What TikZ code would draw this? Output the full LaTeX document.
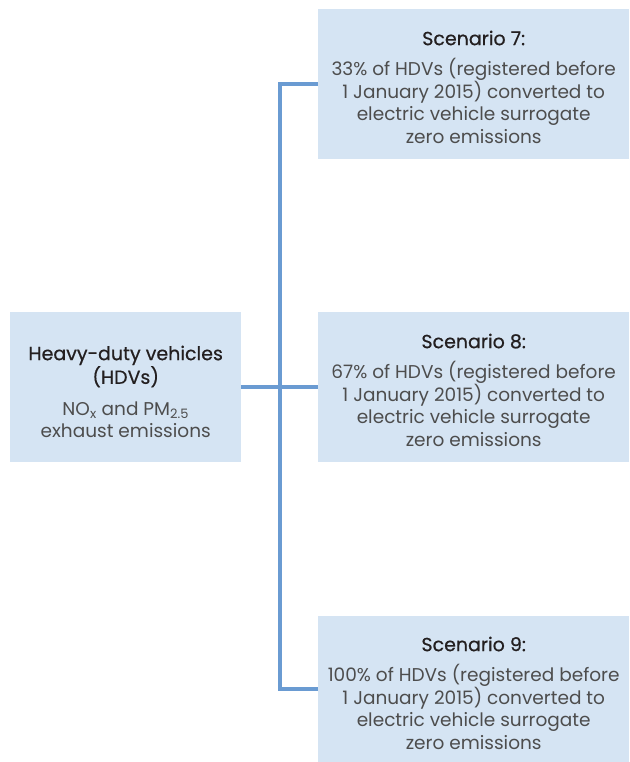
\documentclass[tikz,border=0pt]{standalone}
\usepackage{fontspec}
\setmainfont{Poppins}
\newfontfamily\headfont{Poppins}[FakeBold=0.6]
\definecolor{boxfill}{HTML}{D5E4F3}
\definecolor{linecol}{HTML}{6A9BD2}
\definecolor{headcol}{HTML}{231F20}
\definecolor{bodycol}{HTML}{4D4D4D}
\newcommand{\hd}[1]{{\headfont\color{headcol}\fontsize{19}{22}\selectfont #1}}
\begin{document}
\begin{tikzpicture}[x=1pt,y=-1pt,
  box/.style={fill=boxfill, draw=none, inner sep=0pt, anchor=north west},
  txt/.style={inner sep=0pt, anchor=north, align=center, text=bodycol,
    font=\fontsize{18.5}{22.6}\selectfont},
  conn/.style={draw=linecol, line width=4pt}]
\useasboundingbox (0,0) rectangle (629,762);
\node[box, minimum width=231pt, minimum height=150pt] (hdv) at (10,312) {};
\node[box, minimum width=311pt, minimum height=150pt] (s7) at (318,9) {};
\node[box, minimum width=311pt, minimum height=150pt] (s8) at (318,312) {};
\node[box, minimum width=311pt, minimum height=146pt] (s9) at (318,616) {};
\node[txt] (thdv) at ([yshift=-33.5pt]hdv.north)
  {\hd{Heavy-duty vehicles}\\\hd{(HDVs)}\\[9pt]NO\textsubscript{x} and PM\textsubscript{2.5}\\[-1pt]exhaust emissions};
\node[txt] (t7) at ([yshift=-21.5pt]s7.north)
  {\hd{Scenario 7:}\\[8pt]33\% of HDVs (registered before\\1 January 2015) converted to\\electric vehicle surrogate\\zero emissions};
\node[txt] (t8) at ([yshift=-21.5pt]s8.north)
  {\hd{Scenario 8:}\\[8pt]67\% of HDVs (registered before\\1 January 2015) converted to\\electric vehicle surrogate\\zero emissions};
\node[txt] (t9) at ([yshift=-20.5pt]s9.north)
  {\hd{Scenario 9:}\\[8pt]100\% of HDVs (registered before\\1 January 2015) converted to\\electric vehicle surrogate\\zero emissions};
\coordinate (j) at (280,387);
\draw[conn] (s7.west) -| (j) |- (s9.west);
\draw[conn] (hdv.east) -- (s8.west);
\end{tikzpicture}
\end{document}
